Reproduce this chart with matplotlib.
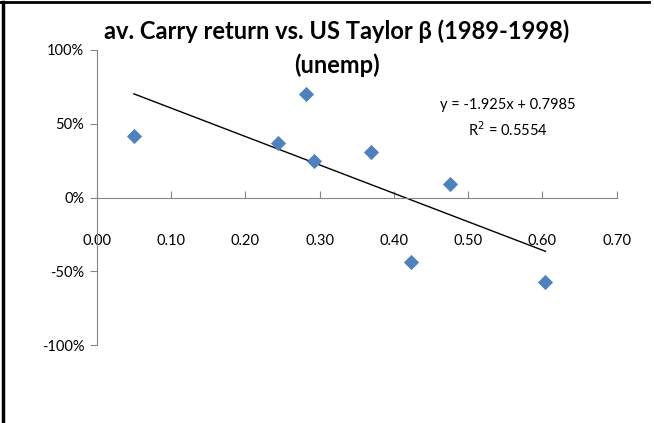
import numpy as np
import matplotlib
matplotlib.use('Agg')
from matplotlib import pyplot as plt
from matplotlib.lines import Line2D
from matplotlib.ticker import FuncFormatter

# data
beta = [0.05, 0.244, 0.281, 0.293, 0.369, 0.475, 0.423, 0.604]
carry = [0.415, 0.37, 0.70, 0.25, 0.31, 0.09, -0.44, -0.57]

slope = -1.925
intercept = 0.7985
r2 = 0.5554

x_ticks = [0.0, 0.1, 0.2, 0.3, 0.4, 0.5, 0.6, 0.7]
y_ticks = [-1.0, -0.5, 0.0, 0.5, 1.0]

MARKER_COLOR = '#4F81BD'
AXIS_COLOR = '#868686'

plt.rcParams['font.family'] = ['Lato', 'DejaVu Sans']

fig = plt.figure(figsize=(6.54, 4.23), dpi=100)
ax = fig.add_axes([0.148, 0.184, 0.795, 0.698])

ax.scatter(beta, carry, marker='D', s=60, color=MARKER_COLOR, zorder=3, linewidths=0)

# linear trendline over data range
xs = np.array([min(beta), max(beta)])
ax.plot(xs, slope * xs + intercept, color='black', lw=1.0, zorder=2)

ax.set_xlim(0, 0.7)
ax.set_ylim(-1.0, 1.0)
ax.set_xticks(x_ticks)
ax.set_yticks(y_ticks)
ax.xaxis.set_major_formatter(FuncFormatter(lambda v, p: '%.2f' % v))
ax.yaxis.set_major_formatter(FuncFormatter(lambda v, p: '%d%%' % round(v * 100)))

for s in ['top', 'right']:
    ax.spines[s].set_visible(False)
ax.spines['bottom'].set_position(('data', 0))
ax.spines['bottom'].set_color(AXIS_COLOR)
ax.spines['left'].set_color(AXIS_COLOR)
ax.tick_params(axis='x', direction='in', length=5, color=AXIS_COLOR, labelsize=10.5, pad=26)
ax.tick_params(axis='y', direction='out', length=5, color=AXIS_COLOR, labelsize=10.5, pad=4)

fig.text(337 / 654, 1 - 31 / 423, 'av. Carry return vs. US Taylor \u03b2 (1989-1998)',
         fontsize=17, fontweight='bold', ha='center', va='center')
fig.text(337 / 654, 1 - 65 / 423, '(unemp)',
         fontsize=17, fontweight='bold', ha='center', va='center')

ax.text(0.553, 0.535, 'y = -1.925x + 0.7985\nR$^2$ = 0.5554', fontsize=10.5,
        ha='center', va='center', linespacing=1.55)

# chart frame (top and left edges only, as in source)
fig.add_artist(Line2D([0.0, 0.992], [0.996, 0.996], transform=fig.transFigure, color='black', lw=2))
fig.add_artist(Line2D([0.004, 0.004], [0.0, 0.996], transform=fig.transFigure, color='black', lw=2.5))

fig.savefig('out.png', dpi=100)
